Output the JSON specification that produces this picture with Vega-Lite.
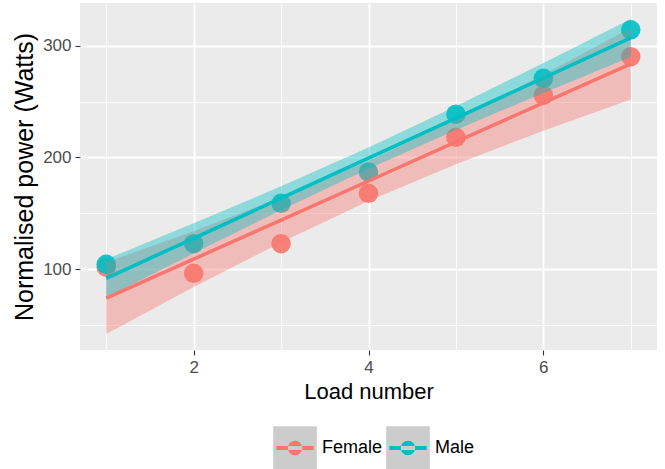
{
  "$schema": "https://vega.github.io/schema/vega-lite/v6.json",
  "width": 577,
  "height": 347,
  "autosize": {"type": "none"},
  "padding": {"left": 80, "top": 3, "right": 8, "bottom": 119},
  "datasets": {
    "points": [
      {"load": 1, "sex": "Female", "power": 102},
      {"load": 2, "sex": "Female", "power": 96.5},
      {"load": 3, "sex": "Female", "power": 123},
      {"load": 4, "sex": "Female", "power": 168},
      {"load": 5, "sex": "Female", "power": 218},
      {"load": 6, "sex": "Female", "power": 255.5},
      {"load": 7, "sex": "Female", "power": 290},
      {"load": 1, "sex": "Male", "power": 104.5},
      {"load": 2, "sex": "Male", "power": 123},
      {"load": 3, "sex": "Male", "power": 159},
      {"load": 4, "sex": "Male", "power": 187},
      {"load": 5, "sex": "Male", "power": 238.7},
      {"load": 6, "sex": "Male", "power": 270.7},
      {"load": 7, "sex": "Male", "power": 314}
    ],
    "fit": [
      {"load": 1, "group": "Female", "fit": 74.3, "lower": 42.3, "upper": 106.3},
      {"load": 2, "group": "Female", "fit": 109.2, "lower": 84.2, "upper": 134.2},
      {"load": 3, "group": "Female", "fit": 144.1, "lower": 124.1, "upper": 164.1},
      {"load": 4, "group": "Female", "fit": 179.0, "lower": 161.2, "upper": 196.8},
      {"load": 5, "group": "Female", "fit": 213.9, "lower": 193.9, "upper": 233.9},
      {"load": 6, "group": "Female", "fit": 248.8, "lower": 223.8, "upper": 273.8},
      {"load": 7, "group": "Female", "fit": 283.7, "lower": 251.7, "upper": 315.7},
      {"load": 1, "group": "Male", "fit": 92.0, "lower": 75.0, "upper": 109.0},
      {"load": 2, "group": "Male", "fit": 127.8, "lower": 114.4, "upper": 141.2},
      {"load": 3, "group": "Male", "fit": 163.6, "lower": 153.0, "upper": 174.2},
      {"load": 4, "group": "Male", "fit": 199.4, "lower": 189.9, "upper": 208.9},
      {"load": 5, "group": "Male", "fit": 235.2, "lower": 224.6, "upper": 245.8},
      {"load": 6, "group": "Male", "fit": 271.0, "lower": 257.6, "upper": 284.4},
      {"load": 7, "group": "Male", "fit": 306.8, "lower": 289.8, "upper": 323.8}
    ]
  },
  "encoding": {
    "x": {
      "field": "load", "type": "quantitative",
      "scale": {"domain": [0.7, 7.3], "nice": false, "zero": false},
      "axis": {
        "title": "Load number",
        "values": [1, 2, 3, 4, 5, 6, 7],
        "labelExpr": "datum.value % 2 === 0 ? datum.label : ''",
        "gridWidth": {"condition": {"test": "datum.value % 2 === 0", "value": 1.8}, "value": 0.8},
        "tickOpacity": {"condition": {"test": "datum.value % 2 === 0", "value": 1}, "value": 0}
      }
    }
  },
  "layer": [
    {
      "data": {"name": "fit"},
      "mark": {"type": "point", "filled": true, "size": 0},
      "encoding": {
        "y": {
          "field": "fit", "type": "quantitative",
          "scale": {"domain": [28, 338], "nice": false, "zero": false},
          "axis": {
            "title": "Normalised power (Watts)",
            "values": [50, 100, 150, 200, 250, 300],
            "labelExpr": "datum.value % 100 === 0 ? datum.label : ''",
            "gridWidth": {"condition": {"test": "datum.value % 100 === 0", "value": 1.8}, "value": 0.8},
            "tickOpacity": {"condition": {"test": "datum.value % 100 === 0", "value": 1}, "value": 0}
          }
        },
        "color": {
          "field": "group", "type": "nominal",
          "scale": {"range": ["#CCCCCC", "#CCCCCC"]},
          "legend": {
            "title": null, "orient": "none", "legendX": 193, "legendY": 423, "direction": "horizontal",
            "symbolType": "square", "symbolSize": 1900, "symbolStrokeWidth": 0, "symbolOpacity": 1,
            "labelFontSize": 18, "labelOpacity": 0, "labelOffset": 5, "columnPadding": 3
          }
        }
      }
    },
    {
      "data": {"name": "points"},
      "mark": {"type": "point", "filled": true, "size": 380, "opacity": 0.9},
      "encoding": {
        "y": {"field": "power", "type": "quantitative"},
        "fill": {
          "field": "sex", "type": "nominal",
          "scale": {"domain": ["Female", "Male"], "range": ["#F8766D", "#00BFC4"]},
          "legend": {
            "title": null, "orient": "none", "legendX": 193, "legendY": 423, "direction": "horizontal",
            "symbolType": "M-0.86,-0.095L0.86,-0.095L0.86,0.095L-0.86,0.095Z M-0.33,0 A0.33,0.33 0 1,0 0.33,0 A0.33,0.33 0 1,0 -0.33,0 Z",
            "symbolSize": 1900, "symbolStrokeWidth": 0, "symbolOpacity": 1,
            "labelFontSize": 18, "labelColor": "#000000", "labelOffset": 5, "columnPadding": 3
          }
        }
      }
    },
    {
      "data": {"name": "fit"},
      "transform": [{"filter": {"field": "group", "equal": "Female"}}],
      "mark": {"type": "area", "opacity": 0.4, "fill": "#F8766D"},
      "encoding": {
        "y": {"field": "lower", "type": "quantitative"},
        "y2": {"field": "upper"}
      }
    },
    {
      "data": {"name": "fit"},
      "transform": [{"filter": {"field": "group", "equal": "Male"}}],
      "mark": {"type": "area", "opacity": 0.4, "fill": "#00BFC4"},
      "encoding": {
        "y": {"field": "lower", "type": "quantitative"},
        "y2": {"field": "upper"}
      }
    },
    {
      "data": {"name": "fit"},
      "mark": {"type": "line", "strokeWidth": 3.5},
      "encoding": {
        "y": {"field": "fit", "type": "quantitative"},
        "stroke": {
          "field": "group", "type": "nominal",
          "scale": {"domain": ["Female", "Male"], "range": ["#F8766D", "#00BFC4"]},
          "legend": {
            "title": null, "orient": "none", "legendX": 193, "legendY": 423, "direction": "horizontal",
            "symbolType": "M-0.86,-0.095L0.86,-0.095L0.86,0.095L-0.86,0.095Z M-0.33,0 A0.33,0.33 0 1,0 0.33,0 A0.33,0.33 0 1,0 -0.33,0 Z",
            "symbolSize": 1900, "symbolStrokeWidth": 0, "symbolOpacity": 1,
            "labelFontSize": 18, "labelColor": "#000000", "labelOffset": 5, "columnPadding": 3
          }
        }
      }
    }
  ],
  "config": {
    "font": "Liberation Sans",
    "view": {"stroke": null, "fill": "#EBEBEB"},
    "axis": {
      "domain": false,
      "grid": true,
      "gridColor": "#FFFFFF",
      "tickColor": "#333333",
      "tickSize": 5,
      "tickWidth": 1.1,
      "labelColor": "#4D4D4D",
      "labelFontSize": 17,
      "labelPadding": 4,
      "titleColor": "#000000",
      "titleFontSize": 22,
      "titleFontWeight": "normal"
    },
    "axisY": {"titlePadding": 5, "titleFontSize": 25},
    "axisX": {"titlePadding": 6}
  }
}
